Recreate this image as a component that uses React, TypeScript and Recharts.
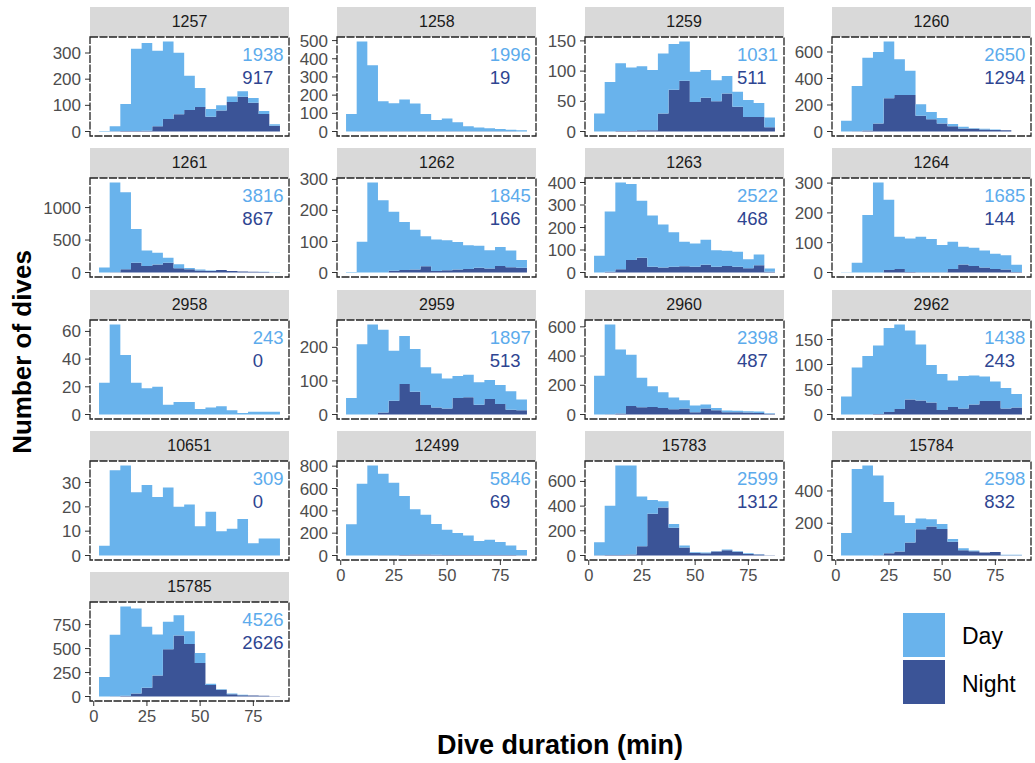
import React from "react";
import { AreaChart, Area, XAxis, YAxis } from "recharts";

// histogram bins: 5-min wide, left edges
const binStarts = [2.5, 7.5, 12.5, 17.5, 22.5, 27.5, 32.5, 37.5, 42.5, 47.5, 52.5, 57.5, 62.5, 67.5, 72.5, 77.5, 82.5];
const binWidth = 5;
const xTicks = [0, 25, 50, 75];

const tags = ["1257", "1258", "1259", "1260", "1261", "1262", "1263", "1264", "2958", "2959", "2960", "2962", "10651", "12499", "15783", "15784", "15785"];
const dayTotals = ["1938", "1996", "1031", "2650", "3816", "1845", "2522", "1685", "243", "1897", "2398", "1438", "309", "5846", "2599", "2598", "4526"];
const nightTotals = ["917", "19", "511", "1294", "867", "166", "468", "144", "0", "513", "487", "243", "0", "69", "1312", "832", "2626"];

const day1257 = [2, 19, 103, 314, 335, 289, 296, 235, 131, 72, 30, 20, 21, 21, 18, 11, 6];
const night1257 = [0, 1, 2, 2, 3, 20, 48, 66, 82, 94, 56, 80, 113, 133, 110, 67, 22];
const day1258 = [96, 493, 362, 166, 154, 174, 153, 95, 62, 70, 50, 28, 21, 17, 13, 8, 7];
const night1258 = [0, 2, 2, 1, 2, 2, 1, 1, 1, 1, 1, 1, 1, 1, 1, 1, 0];
const day1259 = [30, 82, 112, 105, 106, 100, 99, 76, 65, 50, 46, 35, 29, 25, 28, 23, 16];
const night1259 = [0, 0, 1, 1, 2, 2, 30, 69, 84, 49, 56, 50, 63, 41, 24, 24, 7];
const day1260 = [82, 342, 550, 540, 428, 269, 182, 87, 55, 42, 17, 13, 5, 5, 3, 0, 0];
const night1260 = [0, 1, 7, 60, 251, 276, 276, 119, 92, 60, 40, 22, 20, 15, 12, 10, 0];
const day1261 = [76, 1381, 1183, 518, 239, 183, 76, 61, 20, 16, 5, 0, 0, 0, 0, 2, 5];
const night1261 = [0, 5, 51, 152, 101, 122, 152, 66, 51, 30, 25, 40, 25, 15, 10, 8, 0];
const day1262 = [2, 99, 290, 233, 190, 155, 128, 97, 101, 97, 88, 77, 71, 59, 61, 54, 25];
const night1262 = [0, 0, 0, 0, 6, 8, 10, 20, 5, 7, 10, 11, 15, 13, 21, 17, 15];
const day1263 = [74, 268, 385, 337, 253, 227, 191, 153, 109, 103, 112, 73, 68, 66, 40, 48, 15];
const night1263 = [0, 3, 15, 56, 66, 26, 22, 26, 28, 26, 34, 26, 29, 26, 19, 32, 3];
const day1264 = [1, 33, 193, 302, 236, 108, 112, 119, 111, 91, 91, 59, 61, 57, 51, 48, 24];
const night1264 = [0, 0, 0, 0, 8, 12, 2, 1, 1, 1, 12, 27, 22, 17, 12, 10, 2];
const day2958 = [23, 65, 43, 23, 19, 20, 7, 9, 9, 4, 5, 6, 3, 1, 2, 2, 2];
const night2958 = [0, 0, 0, 0, 0, 0, 0, 0, 0, 0, 0, 0, 0, 0, 0, 0, 0];
const day2959 = [49, 209, 268, 246, 149, 143, 127, 113, 101, 89, 66, 67, 67, 57, 57, 55, 32];
const night2959 = [0, 0, 0, 6, 41, 91, 68, 28, 21, 18, 49, 51, 29, 46, 31, 14, 13];
const day2960 = [266, 614, 438, 350, 201, 142, 108, 81, 56, 45, 27, 16, 11, 9, 9, 9, 4];
const night2960 = [0, 2, 7, 59, 50, 52, 45, 36, 41, 16, 41, 29, 16, 16, 14, 11, 5];
const day2962 = [36, 94, 117, 137, 168, 169, 138, 112, 75, 72, 53, 65, 58, 49, 39, 41, 27];
const night2962 = [0, 0, 0, 1, 5, 11, 30, 28, 24, 9, 15, 12, 20, 27, 27, 12, 14];
const day10651 = [4, 35, 37, 26, 29, 24, 28, 20, 21, 12, 18, 10, 11, 15, 5, 7, 7];
const night10651 = [0, 0, 0, 0, 0, 0, 0, 0, 0, 0, 0, 0, 0, 0, 0, 0, 0];
const day12499 = [279, 643, 806, 730, 649, 528, 405, 356, 275, 226, 196, 173, 125, 138, 117, 85, 47];
const night12499 = [0, 0, 0, 2, 3, 5, 10, 8, 6, 5, 5, 5, 5, 4, 4, 4, 3];
const day15783 = [104, 397, 724, 721, 402, 112, 51, 30, 16, 6, 5, 3, 5, 5, 6, 3, 0];
const night15783 = [3, 5, 5, 8, 75, 338, 389, 225, 64, 21, 19, 32, 43, 30, 13, 8, 3];
const day15784 = [139, 537, 558, 494, 318, 225, 121, 68, 44, 31, 17, 12, 4, 0, 0, 2, 2];
const night15784 = [0, 0, 0, 2, 14, 25, 80, 162, 180, 164, 86, 33, 27, 18, 21, 2, 2];
const day15785 = [203, 641, 932, 888, 637, 427, 288, 210, 132, 105, 13, 4, 7, 3, 0, 0, 0];
const night15785 = [0, 3, 7, 31, 92, 220, 492, 637, 549, 349, 119, 71, 24, 14, 10, 7, 3];

const daySeries = [day1257, day1258, day1259, day1260, day1261, day1262, day1263, day1264, day2958, day2959, day2960, day2962, day10651, day12499, day15783, day15784, day15785];
const nightSeries = [night1257, night1258, night1259, night1260, night1261, night1262, night1263, night1264, night2958, night2959, night2960, night2962, night10651, night12499, night15783, night15784, night15785];

const yTickSets = [
  [0, 100, 200, 300],
  [0, 100, 200, 300, 400, 500],
  [0, 50, 100, 150],
  [0, 200, 400, 600],
  [0, 500, 1000],
  [0, 100, 200, 300],
  [0, 100, 200, 300, 400],
  [0, 100, 200, 300],
  [0, 20, 40, 60],
  [0, 100, 200],
  [0, 200, 400, 600],
  [0, 50, 100, 150],
  [0, 10, 20, 30],
  [0, 200, 400, 600, 800],
  [0, 200, 400, 600],
  [0, 200, 400],
  [0, 250, 500, 750],
];

const DAY = "#69B3EC";
const NIGHT = "#3B5497";
const DAY_TEXT = "#5CABEC";
const NIGHT_TEXT = "#2E4591";
const FONT = "'Liberation Sans', Arial, sans-serif";

const PLOT_W = 199;
const PLOT_H = 99;
const STRIP_H = 30;
const Y_AXIS_W = 60;
const X_AXIS_H = 30;
const PAD = 10; // room for tick labels poking out above / below the plot

function Panel({ i }: { i: number }) {
  const col = i % 4;
  const row = Math.floor(i / 4);
  const plotLeft = 90 + col * 247.3;
  const stripTop = 7 + row * 141.3;
  const plotTop = stripTop + STRIP_H;
  const showX = i >= 13;
  const day = daySeries[i];
  const night = nightSeries[i];

  const rows = binStarts.map((x, k) => ({ x, day: day[k], night: night[k] }));
  const last = binStarts.length - 1;
  rows.push({ x: binStarts[last] + binWidth, day: day[last], night: night[last] });
  const maxTotal = Math.max(...day.map((d, k) => d + night[k]));

  return (
    <>
      <div
        style={{
          position: "absolute",
          left: plotLeft,
          top: stripTop,
          width: PLOT_W,
          height: STRIP_H,
          background: "#d9d9d9",
          color: "#1a1a1a",
          fontSize: 16,
          lineHeight: `${STRIP_H}px`,
          textAlign: "center",
        }}
      >
        {tags[i]}
      </div>
      <div style={{ position: "absolute", left: plotLeft - Y_AXIS_W, top: plotTop - PAD }}>
        <AreaChart
          width={Y_AXIS_W + PLOT_W}
          height={PLOT_H + PAD + (showX ? X_AXIS_H : PAD)}
          data={rows}
          margin={{ top: PAD, right: 0, bottom: showX ? 0 : PAD, left: 0 }}
        >
          <XAxis
            type="number"
            dataKey="x"
            domain={[-1.75, 91.75]}
            ticks={xTicks}
            allowDataOverflow
            interval={0}
            hide={!showX}
            height={X_AXIS_H}
            axisLine={false}
            tickLine={{ stroke: "#333" }}
            tickSize={5}
            tickMargin={4}
            tick={{ fontSize: 16.5, fill: "#4d4d4d", fontFamily: FONT }}
          />
          <YAxis
            type="number"
            domain={[-0.05 * maxTotal, 1.05 * maxTotal]}
            ticks={yTickSets[i]}
            allowDataOverflow
            interval={0}
            width={Y_AXIS_W}
            axisLine={false}
            tickLine={{ stroke: "#333" }}
            tickSize={5}
            tickMargin={4}
            tick={{ fontSize: 17, fill: "#4d4d4d", fontFamily: FONT }}
          />
          <Area
            type="stepAfter"
            dataKey="night"
            stackId="dives"
            fill={NIGHT}
            fillOpacity={1}
            stroke="none"
            isAnimationActive={false}
          />
          <Area
            type="stepAfter"
            dataKey="day"
            stackId="dives"
            fill={DAY}
            fillOpacity={1}
            stroke="none"
            isAnimationActive={false}
          />
        </AreaChart>
      </div>
      {/* dashed panel border */}
      <svg
        width={PLOT_W + 2}
        height={PLOT_H + 2}
        style={{ position: "absolute", left: plotLeft - 1, top: plotTop - 1, pointerEvents: "none" }}
      >
        <rect x={1} y={1} width={PLOT_W} height={PLOT_H} fill="none" stroke="#222" strokeWidth={1.3} strokeDasharray="8 1.5" />
      </svg>
      <div
        style={{
          position: "absolute",
          right: 1035 - (plotLeft + PLOT_W - 5.5),
          top: plotTop + 6,
          display: "flex",
          flexDirection: "column",
          alignItems: "flex-start",
          fontSize: 18.5,
          lineHeight: "23px",
        }}
      >
        <span style={{ color: DAY_TEXT }}>{dayTotals[i]}</span>
        <span style={{ color: NIGHT_TEXT }}>{nightTotals[i]}</span>
      </div>
    </>
  );
}

export default function App() {
  return (
    <div
      style={{
        position: "absolute",
        left: 0,
        top: 0,
        width: 1035,
        height: 763,
        background: "#fff",
        fontFamily: FONT,
        overflow: "hidden",
      }}
    >
      {tags.map((t, i) => (
        <Panel key={t} i={i} />
      ))}

      {/* axis titles */}
      <div
        style={{
          position: "absolute",
          left: 22,
          top: 352,
          transform: "translate(-50%, -50%) rotate(-90deg)",
          whiteSpace: "nowrap",
          fontWeight: "bold",
          fontSize: 26,
          color: "#000",
        }}
      >
        Number of dives
      </div>
      <div
        style={{
          position: "absolute",
          left: 560,
          top: 745,
          transform: "translate(-50%, -50%)",
          whiteSpace: "nowrap",
          fontWeight: "bold",
          fontSize: 27,
          color: "#000",
        }}
      >
        Dive duration (min)
      </div>

      {/* legend */}
      <div style={{ position: "absolute", left: 903, top: 613, width: 42, height: 44, background: DAY }} />
      <div style={{ position: "absolute", left: 903, top: 660, width: 42, height: 44, background: NIGHT }} />
      <div style={{ position: "absolute", left: 962, top: 636, transform: "translateY(-50%)", fontSize: 23 }}>Day</div>
      <div style={{ position: "absolute", left: 962, top: 684, transform: "translateY(-50%)", fontSize: 23 }}>Night</div>
    </div>
  );
}
